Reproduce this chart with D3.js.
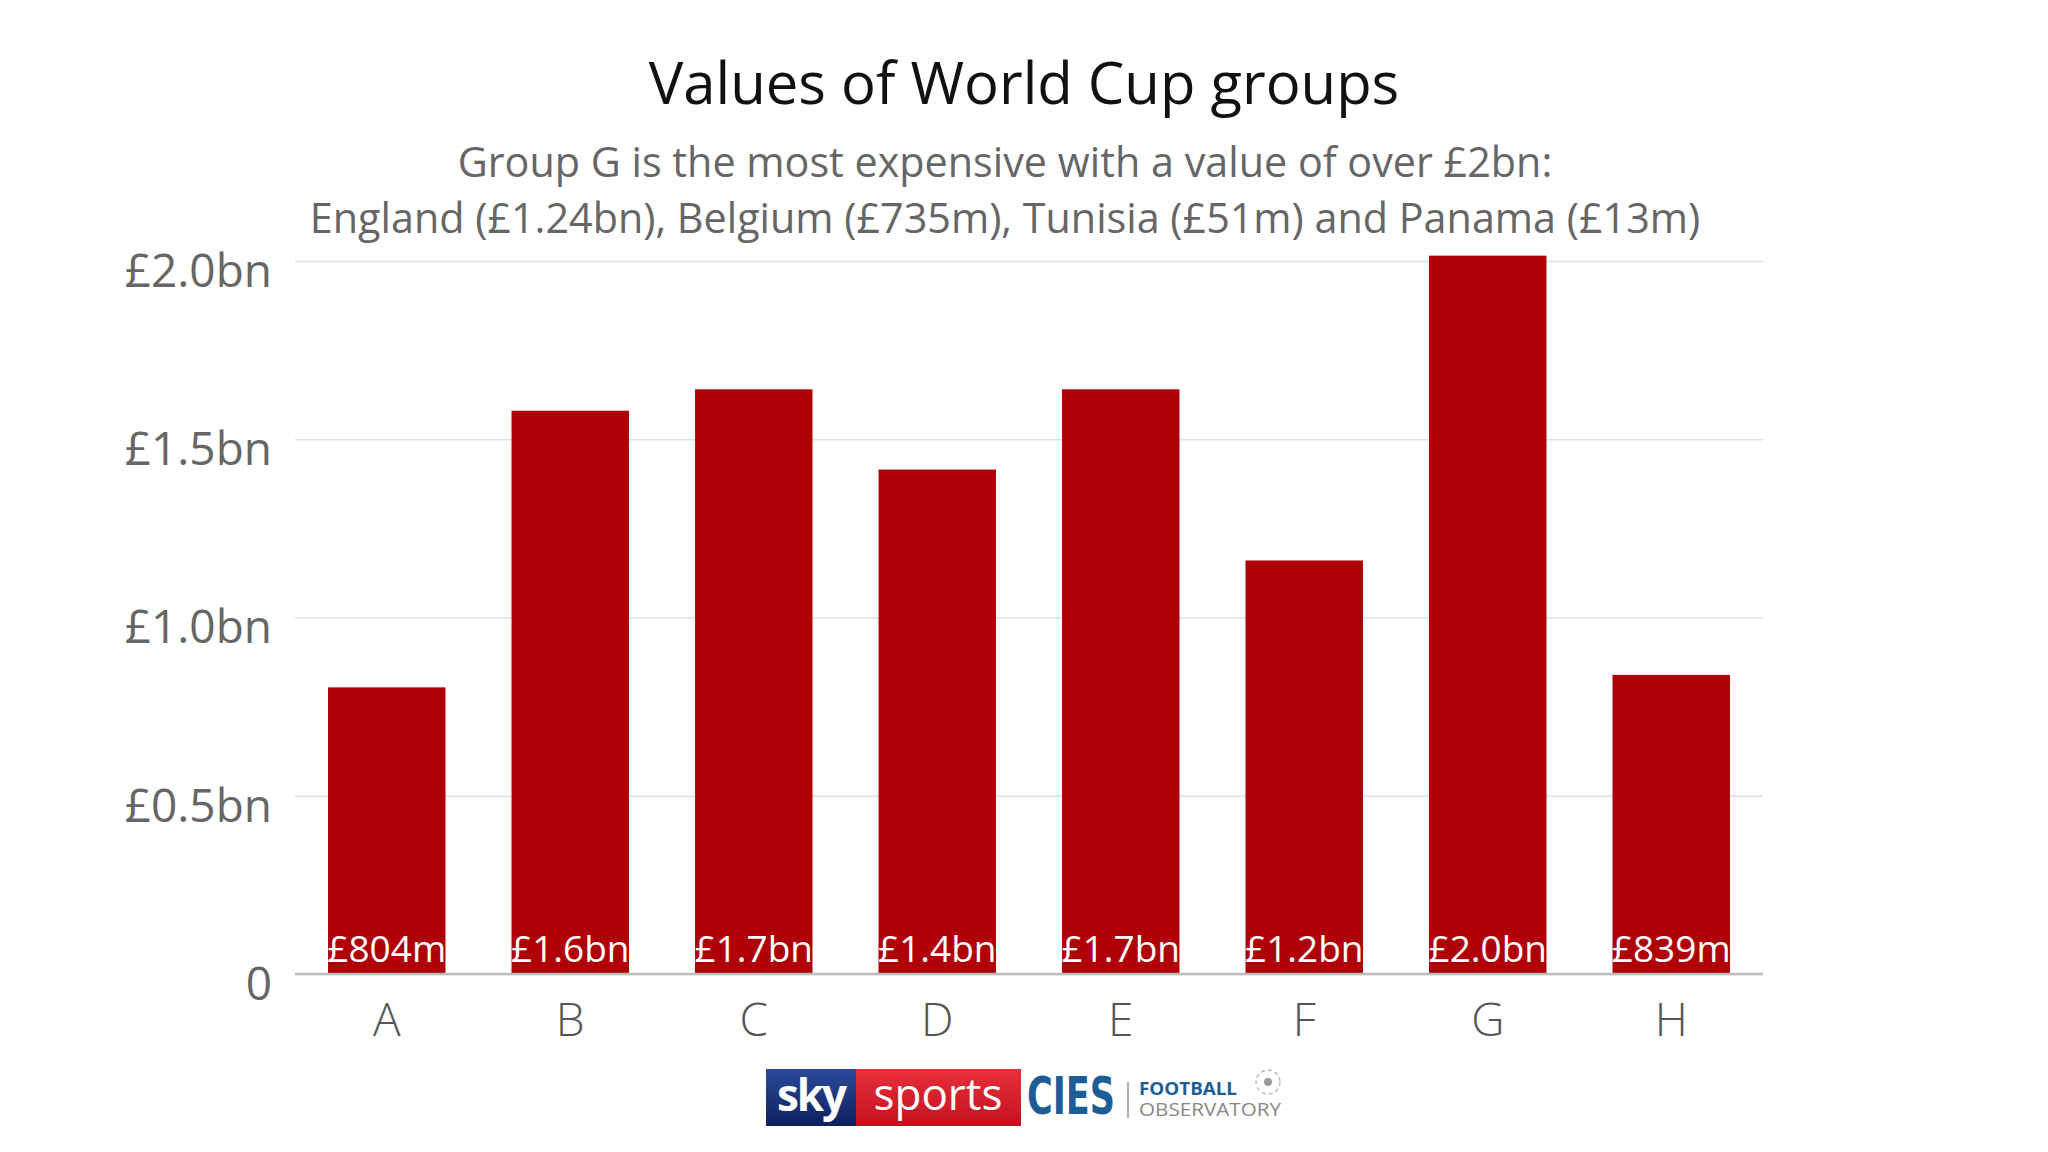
<!DOCTYPE html>
<html>
<head>
<meta charset="utf-8">
<script src="https://cdn.jsdelivr.net/npm/d3@7"></script>
<style>
  body { margin: 0; background: #fff; }
  svg text { font-family: "Open Sans", sans-serif; }
</style>
</head>
<body>
<div id="chart-container"></div>
<script>
// data
var groups = ["A", "B", "C", "D", "E", "F", "G", "H"];
var values = [0.804, 1.58, 1.64, 1.415, 1.64, 1.16, 2.015, 0.839];   // £bn
var valueLabels = ["£804m", "£1.6bn", "£1.7bn", "£1.4bn", "£1.7bn", "£1.2bn", "£2.0bn", "£839m"];
var yTicks = [0, 0.5, 1.0, 1.5, 2.0];
var yTickLabels = ["0", "£0.5bn", "£1.0bn", "£1.5bn", "£2.0bn"];

var title = "Values of World Cup groups";
var subtitle = [
    "Group G is the most expensive with a value of over £2bn:",
    "England (£1.24bn), Belgium (£735m), Tunisia (£51m) and Panama (£13m)"
];

var settings = {
    w: 2048,
    h: 1152,
    left: 295,
    right: 1763,
    top: 261,
    bottom: 974,
    barColor: "#b00007"
};

var svg = d3.select("#chart-container").append("svg")
    .attr("width", settings.w)
    .attr("height", settings.h);

svg.append("rect").attr("width", settings.w).attr("height", settings.h).attr("fill", "#fff");

var data = groups.map(function(g, i) {
    return {name: g, value: values[i], label: valueLabels[i]};
});

var xScale = d3.scaleBand()
    .domain(groups)
    .range([settings.left, settings.right])
    .paddingInner(0.36)
    .paddingOuter(0.18);

var yScale = d3.scaleLinear()
    .domain([0, 2.0])
    .range([settings.bottom, settings.top]);

// title + subtitle
svg.append("text")
    .attr("x", 1024).attr("y", 104)
    .attr("text-anchor", "middle")
    .attr("font-size", 58)
    .attr("fill", "#111")
    .text(title);

svg.selectAll(".subtitle")
    .data(subtitle)
    .enter()
    .append("text")
    .attr("class", "subtitle")
    .attr("x", 1005)
    .attr("y", function(d, i) { return 177 + i * 56; })
    .attr("text-anchor", "middle")
    .attr("font-size", 41.3)
    .attr("fill", "#666")
    .text(function(d) { return d; });

// gridlines
var yAxis = d3.axisLeft(yScale)
    .tickValues(yTicks)
    .tickSize(-(settings.right - settings.left))
    .tickFormat(function(d, i) { return yTickLabels[i]; });

var yAxisDom = svg.append("g")
    .attr("class", "y-axis")
    .attr("transform", "translate(" + settings.left + ",0)")
    .call(yAxis);

yAxisDom.select(".domain").remove();
yAxisDom.selectAll("line")
    .attr("stroke", "#e0e0e0")
    .attr("stroke-width", 1.5);
yAxisDom.selectAll("text")
    .attr("x", -23)
    .attr("dy", "0.55em")
    .attr("font-size", 46)
    .attr("fill", "#666")
    .style("font-family", "\"Open Sans\", sans-serif");

// bars
svg.selectAll("rect.bar")
    .data(data)
    .enter()
    .append("rect")
    .attr("class", "bar")
    .attr("x", function(d) { return xScale(d.name); })
    .attr("y", function(d) { return yScale(d.value); })
    .attr("width", xScale.bandwidth())
    .attr("height", function(d) { return yScale(0) - yScale(d.value); })
    .attr("fill", settings.barColor);

// zero line on top
svg.append("line")
    .attr("x1", settings.left).attr("x2", settings.right)
    .attr("y1", yScale(0)).attr("y2", yScale(0))
    .attr("stroke", "#bdbdbd")
    .attr("stroke-width", 2.5);

// value labels at bottom of bars
svg.selectAll("text.value")
    .data(data)
    .enter()
    .append("text")
    .attr("class", "value")
    .attr("x", function(d) { return xScale(d.name) + xScale.bandwidth() / 2; })
    .attr("y", yScale(0) - 12)
    .attr("text-anchor", "middle")
    .attr("font-size", 37)
    .attr("fill", "#fff")
    .text(function(d) { return d.label; });

// x axis
var xAxis = d3.axisBottom(xScale).tickSize(0);
var xAxisDom = svg.append("g")
    .attr("class", "x-axis")
    .attr("transform", "translate(0," + yScale(0) + ")")
    .call(xAxis);
xAxisDom.select(".domain").remove();
xAxisDom.selectAll("text")
    .attr("y", 29)
    .attr("dy", "0.71em")
    .attr("font-size", 46)
    .attr("font-weight", 300)
    .attr("fill", "#555")
    .style("font-family", "\"Open Sans\", sans-serif");

// logos
var logo = svg.append("g").attr("class", "logo");
var grad = svg.append("defs").append("linearGradient")
    .attr("id", "skyGrad").attr("x1", 0).attr("y1", 0).attr("x2", 0).attr("y2", 1);
grad.append("stop").attr("offset", "0%").attr("stop-color", "#2a4a9a");
grad.append("stop").attr("offset", "100%").attr("stop-color", "#0f1f5c");
var grad2 = svg.select("defs").append("linearGradient")
    .attr("id", "sportsGrad").attr("x1", 0).attr("y1", 0).attr("x2", 0).attr("y2", 1);
grad2.append("stop").attr("offset", "0%").attr("stop-color", "#e8303c");
grad2.append("stop").attr("offset", "100%").attr("stop-color", "#c4101e");

logo.append("rect").attr("x", 766).attr("y", 1069).attr("width", 90).attr("height", 57)
    .attr("fill", "url(#skyGrad)");
logo.append("rect").attr("x", 856).attr("y", 1069).attr("width", 165).attr("height", 57)
    .attr("fill", "url(#sportsGrad)");
logo.append("text").attr("x", 811).attr("y", 1111).attr("text-anchor", "middle")
    .attr("font-size", 44).attr("font-weight", 700).attr("fill", "#fff")
    .attr("letter-spacing", -2).text("sky");
logo.append("text").attr("x", 938).attr("y", 1110).attr("text-anchor", "middle")
    .attr("font-size", 44).attr("fill", "#fff").text("sports");
logo.append("text").attr("x", 1071).attr("y", 1114).attr("text-anchor", "middle")
    .attr("font-size", 52).attr("font-weight", 800).attr("fill", "#1d5d95")
    .attr("textLength", 88).attr("lengthAdjust", "spacingAndGlyphs")
    .style("font-family", "\"Liberation Sans Narrow\", \"DejaVu Sans Condensed\", sans-serif")
    .text("CIES");
logo.append("line").attr("x1", 1128).attr("x2", 1128).attr("y1", 1082).attr("y2", 1118)
    .attr("stroke", "#999").attr("stroke-width", 1.5);
logo.append("text").attr("x", 1139).attr("y", 1095)
    .attr("font-size", 17).attr("font-weight", 700).attr("fill", "#1d5d95")
    .attr("textLength", 98).attr("lengthAdjust", "spacingAndGlyphs")
    .text("FOOTBALL");
logo.append("text").attr("x", 1139).attr("y", 1116)
    .attr("font-size", 18).attr("fill", "#888")
    .attr("textLength", 142).attr("lengthAdjust", "spacingAndGlyphs")
    .text("OBSERVATORY");
logo.append("circle").attr("cx", 1268).attr("cy", 1082).attr("r", 12)
    .attr("fill", "none").attr("stroke", "#bbb").attr("stroke-width", 1.5)
    .attr("stroke-dasharray", "4 3");
logo.append("circle").attr("cx", 1268).attr("cy", 1082).attr("r", 4).attr("fill", "#999");
</script>
</body>
</html>
